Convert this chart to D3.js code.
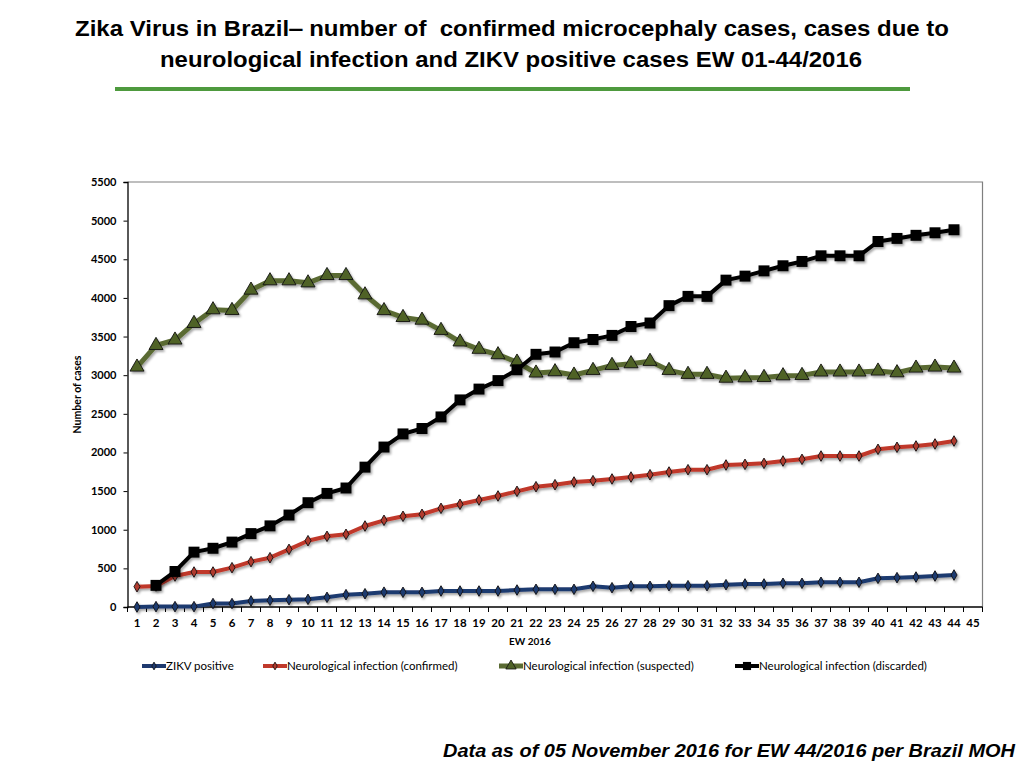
<!DOCTYPE html>
<html>
<head>
<meta charset="utf-8">
<script src="https://cdn.jsdelivr.net/npm/d3@7"></script>
<style>
  body { margin: 0; background: #fff; }
  text { white-space: pre; }
</style>
</head>
<body>
<div id="chart"></div>
<script>
// epidemiological weeks 1..45 (45 has no data)
const weeks = d3.range(1, 46);
const yTicks = [0, 500, 1000, 1500, 2000, 2500, 3000, 3500, 4000, 4500, 5000, 5500];

const zikvPositive = [0, 5, 5, 5, 45, 45, 78, 86, 95, 99, 125, 160, 172, 192, 190, 190, 207, 207, 207, 207,
  220, 229, 229, 229, 268, 250, 270, 268, 276, 276, 276, 289, 298, 298, 307, 307, 320, 320, 320, 371,
  380, 388, 401, 414];
const neuroConfirmed = [263, 272, 401, 453, 453, 509, 587, 638, 746, 858, 915, 941, 1048, 1122, 1174, 1200,
  1277, 1329, 1385, 1437, 1497, 1557, 1583, 1618, 1635, 1657, 1682, 1712, 1747, 1777, 1777, 1838, 1846,
  1859, 1889, 1911, 1954, 1954, 1954, 2041, 2067, 2084, 2110, 2148];
const neuroSuspected = [3105, 3385, 3455, 3670, 3847, 3838, 4101, 4222, 4222, 4195, 4290, 4290, 4040, 3836,
  3747, 3712, 3580, 3430, 3335, 3265, 3170, 3028, 3045, 3002, 3062, 3127, 3149, 3179, 3062, 3011, 3011,
  2961, 2967, 2971, 2993, 2997, 3041, 3041, 3041, 3054, 3032, 3092, 3105, 3092];
// discarded series starts at week 2
const neuroDiscarded = [null, 280, 460, 710, 760, 840, 950, 1050, 1190, 1350, 1470, 1540, 1810, 2070, 2240,
  2310, 2460, 2680, 2820, 2930, 3070, 3270, 3300, 3420, 3462, 3515, 3630, 3675, 3900, 4020, 4020, 4230,
  4282, 4350, 4416, 4472, 4545, 4545, 4545, 4730, 4770, 4810, 4843, 4882];

const seriesNames = ["ZIKV positive", "Neurological infection (confirmed)",
  "Neurological infection (suspected)", "Neurological infection (discarded)"];

const W = 1024, H = 768;
const plotL = 127.5, plotR = 982.5, plotT = 182, plotB = 607;

const svg = d3.select("#chart").append("svg")
  .attr("width", W).attr("height", H);

const defs = svg.append("defs");
defs.append("filter").attr("id", "shadow")
  .attr("x", "-20%").attr("y", "-20%").attr("width", "140%").attr("height", "140%")
  .append("feDropShadow")
  .attr("dx", 1.5).attr("dy", 2).attr("stdDeviation", 1.2)
  .attr("flood-color", "#000").attr("flood-opacity", 0.35);

// title
const title = svg.append("g")
  .attr("font-family", "'Liberation Sans', Arial, sans-serif")
  .attr("font-weight", "bold")
  .attr("font-size", 22)
  .attr("text-anchor", "middle");
title.append("text").attr("x", 512).attr("y", 36)
  .attr("textLength", 874).attr("lengthAdjust", "spacingAndGlyphs")
  .text("Zika Virus in Brazil\u2012 number of  confirmed microcephaly cases, cases due to");
title.append("text").attr("x", 511).attr("y", 67)
  .attr("textLength", 702).attr("lengthAdjust", "spacingAndGlyphs")
  .text("neurological infection and ZIKV positive cases EW 01-44/2016");

svg.append("line")
  .attr("x1", 115).attr("x2", 910).attr("y1", 89).attr("y2", 89)
  .attr("stroke", "#4e9a3e").attr("stroke-width", 4);

// scales
const x = d3.scaleBand().domain(weeks).range([plotL, plotR]);
const y = d3.scaleLinear().domain([0, 5500]).range([plotB, plotT]);
const cx = w => x(w) + x.bandwidth() / 2;

const tickFont = "Lato, 'Open Sans', sans-serif";

// plot frame (top and right)
svg.append("path")
  .attr("d", `M${plotL},${plotT}H${plotR}V${plotB}`)
  .attr("fill", "none").attr("stroke", "#7f7f7f").attr("stroke-width", 1.2);

// y axis
const yAxis = svg.append("g")
  .attr("transform", `translate(${plotL},0)`)
  .call(d3.axisLeft(y).tickValues(yTicks).tickSize(4).tickPadding(7).tickFormat(d3.format("d")));
yAxis.select(".domain").attr("stroke", "#000").attr("stroke-width", 1.3);
yAxis.selectAll("text")
  .attr("font-family", tickFont).attr("font-weight", "bold").attr("font-size", 11).attr("fill", "#000");

// x axis: ticks at category boundaries
const xAxis = svg.append("g")
  .attr("transform", `translate(0,${plotB})`);
xAxis.append("line")
  .attr("x1", plotL).attr("x2", plotR)
  .attr("stroke", "#000").attr("stroke-width", 1.3);
xAxis.selectAll(".tick")
  .data(weeks.concat([46]))
  .enter().append("line")
  .attr("x1", d => d <= 45 ? x(d) : plotR)
  .attr("x2", d => d <= 45 ? x(d) : plotR)
  .attr("y1", 0).attr("y2", 5)
  .attr("stroke", "#000").attr("stroke-width", 1);
xAxis.selectAll(".lbl")
  .data(weeks)
  .enter().append("text")
  .attr("x", d => cx(d)).attr("y", 20)
  .attr("text-anchor", "middle")
  .attr("font-family", tickFont).attr("font-weight", "bold").attr("font-size", 11.5)
  .text(d => d);

svg.append("text")
  .attr("x", (plotL + plotR) / 2 - 25).attr("y", 645)
  .attr("text-anchor", "middle")
  .attr("font-family", tickFont).attr("font-weight", "bold").attr("font-size", 10)
  .text("EW 2016");

svg.append("text")
  .attr("transform", `translate(81,${(plotT + plotB) / 2}) rotate(-90)`)
  .attr("text-anchor", "middle")
  .attr("font-family", tickFont).attr("font-weight", "bold").attr("font-size", 10.5)
  .text("Number of cases");

// series
const series = [
  { name: seriesNames[0], values: zikvPositive, color: "#1f3a6f", fill: "#1f3a6f", width: 4, shape: d3.symbolDiamond, size: 32 },
  { name: seriesNames[1], values: neuroConfirmed, color: "#c0392b", fill: "#b03a2e", width: 4, shape: d3.symbolDiamond, size: 32 },
  { name: seriesNames[2], values: neuroSuspected, color: "#5a6b33", fill: "#4f6228", width: 5, shape: d3.symbolTriangle, size: 85 },
  { name: seriesNames[3], values: neuroDiscarded, color: "#000", fill: "#000", width: 4, shape: d3.symbolSquare, size: 120 }
];

const line = d3.line()
  .defined(d => d.v != null)
  .x(d => cx(d.w)).y(d => y(d.v));

series.forEach(s => {
  const pts = s.values.map((v, i) => ({ w: weeks[i], v: v }));
  const g = svg.append("g").attr("filter", "url(#shadow)");
  g.append("path")
    .datum(pts)
    .attr("d", line)
    .attr("fill", "none")
    .attr("stroke", s.color)
    .attr("stroke-width", s.width)
    .attr("stroke-linejoin", "round");
  g.selectAll("path.mark")
    .data(pts.filter(d => d.v != null))
    .enter().append("path")
    .attr("class", "mark")
    .attr("transform", d => `translate(${cx(d.w)},${y(d.v)})`)
    .attr("d", d3.symbol().type(s.shape).size(s.size))
    .attr("fill", s.fill)
    .attr("stroke", "#111")
    .attr("stroke-width", s.shape === d3.symbolSquare ? 0 : 0.9);
});

// legend
const legendX = [142, 263, 499, 735];
const legend = svg.append("g").attr("transform", "translate(0,666)");
series.forEach((s, i) => {
  const g = legend.append("g").attr("transform", `translate(${legendX[i]},0)`);
  g.append("line").attr("x1", 0).attr("x2", 24)
    .attr("stroke", s.color).attr("stroke-width", s.width);
  g.append("path")
    .attr("transform", "translate(12,0)")
    .attr("d", d3.symbol().type(s.shape).size(s.size * 0.55))
    .attr("fill", s.fill).attr("stroke", "#111")
    .attr("stroke-width", s.shape === d3.symbolSquare ? 0 : 0.8);
  g.append("text")
    .attr("x", 24).attr("y", 4)
    .attr("font-family", "Lato, 'Open Sans', sans-serif")
    .attr("font-size", 11.5)
    .text(s.name);
});

// footnote
svg.append("text")
  .attr("x", 1015).attr("y", 757)
  .attr("text-anchor", "end")
  .attr("font-family", "'Liberation Sans', Arial, sans-serif")
  .attr("font-weight", "bold").attr("font-style", "italic")
  .attr("font-size", 18)
  .attr("textLength", 572).attr("lengthAdjust", "spacingAndGlyphs")
  .text("Data as of 05 November 2016 for EW 44/2016 per Brazil MOH");
</script>
</body>
</html>
